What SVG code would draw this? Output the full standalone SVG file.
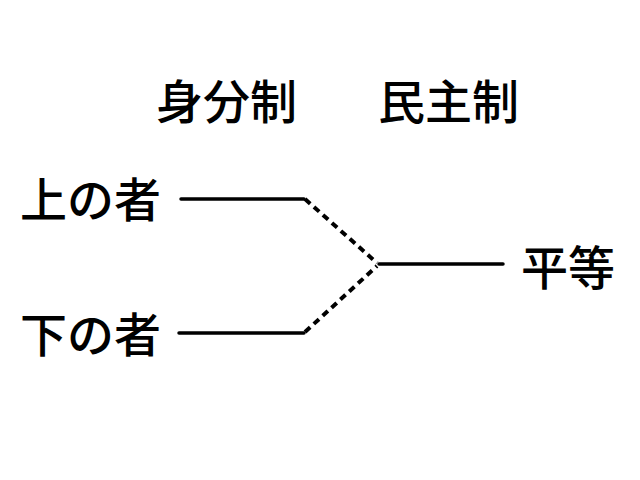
<svg xmlns="http://www.w3.org/2000/svg" width="640" height="480" viewBox="0 0 640 480">
<style>
text{font-family:"Noto Sans CJK JP","Noto Sans CJK SC",sans-serif;font-size:47px;font-weight:500;fill:#000}
.s{stroke:#000;stroke-width:3.5;stroke-linecap:round;fill:none}
.d{stroke-width:4;stroke-dasharray:7 5;stroke-linecap:butt}
</style>
<rect width="640" height="480" fill="#fff"/>
<g id="header-old"><text x="156" y="119">身分制</text></g>
<g id="header-new"><text x="378" y="119">民主制</text></g>
<g id="upper"><text x="20" y="217">上の者</text></g>
<g id="lower"><text x="20" y="352">下の者</text></g>
<g id="equal"><text x="521" y="285">平等</text></g>
<g id="connectors">
<line class="s" x1="181" y1="199" x2="304" y2="199"/>
<line class="s" x1="179" y1="333" x2="304" y2="333"/>
<line class="s" x1="379" y1="264" x2="503" y2="264"/>
<line class="s d" x1="305" y1="199" x2="377" y2="263"/>
<line class="s d" x1="305" y1="332" x2="377" y2="266"/>
</g>
</svg>
